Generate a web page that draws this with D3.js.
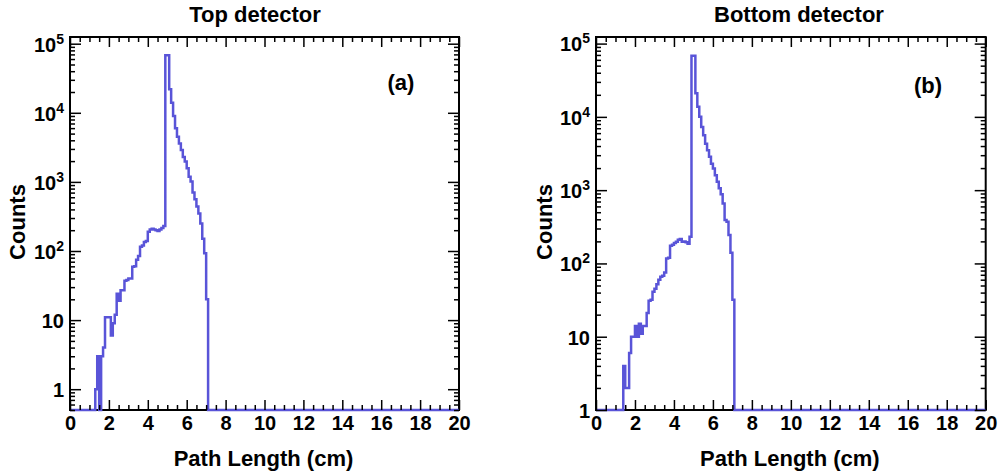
<!DOCTYPE html>
<html>
<head>
<meta charset="utf-8">
<script src="https://cdn.jsdelivr.net/npm/d3@7"></script>
<style>
body { margin: 0; background: #fff; }
text { font-family: "Liberation Sans", Arial, sans-serif; font-weight: bold; fill: #000; }
.tick line { stroke: #000; stroke-width: 1.5px; }
.hist { fill: none; stroke: #5954d8; stroke-width: 2.5px; }
.frame { fill: none; stroke: #000; stroke-width: 2px; }
</style>
</head>
<body>
<svg id="chart" width="998" height="474"></svg>
<script>
// histogram binning (cm)
var binStart = 1.3, binWidth = 0.1;

// counts per bin, starting at binStart
var topCounts = [1, 3, 0, 3, 4, 11, 11, 11, 6, 9,
  12, 24, 19, 27, 27, 37, 38, 40, 40, 59,
  60, 75, 85, 115, 120, 135, 140, 190, 205, 210,
  205, 200, 195, 205, 215, 230, 68000, 68000, 22000, 14000,
  9000, 6000, 4500, 3600, 2900, 2300, 1970, 1580, 1190, 1010,
  700, 560, 440, 350, 250, 150, 93, 20];

var bottomCounts = [0, 4, 2, 2, 6, 10, 10, 14, 10, 15,
  11, 14, 14, 21, 31, 32, 41, 45, 52, 60,
  66, 68, 75, 117, 120, 175, 180, 190, 198, 210,
  215, 198, 200, 195, 185, 232, 68000, 68000, 21000, 13700,
  10000, 7300, 5600, 4300, 3500, 2860, 2300, 1980, 1600, 1300,
  1060, 880, 660, 390, 370, 244, 140, 32];

var xMajor = [0, 2, 4, 6, 8, 10, 12, 14, 16, 18, 20];
var yMajor = [1, 10, 100, 1000, 10000, 100000];

var svg = d3.select("#chart");

var panels = [
  {title: "Top detector", tag: "(a)", counts: topCounts, left: 70, right: 459, yMin: 0.5, yMax: 1.25e5,
   titleX: 255, tagX: 401, tagY: 90, ylabX: 25},
  {title: "Bottom detector", tag: "(b)", counts: bottomCounts, left: 596, right: 985.7, yMin: 1, yMax: 1.23e5,
   titleX: 799, tagX: 928, tagY: 93, ylabX: 552}
];
var plotTop = 37, plotBottom = 410;

panels.forEach(drawPanel);

function drawPanel(p) {
  var x = d3.scaleLinear().domain([0, 20]).range([p.left, p.right]);
  var y = d3.scaleLog().domain([p.yMin, p.yMax]).range([plotBottom, plotTop]);
  var g = svg.append("g");

  // frame
  g.append("rect").attr("class", "frame")
    .attr("x", p.left).attr("y", plotTop)
    .attr("width", p.right - p.left).attr("height", plotBottom - plotTop);

  // histogram as a step line
  var pts = [{x: 0, v: 0}];
  p.counts.forEach(function(c, i) { pts.push({x: binStart + i * binWidth, v: c}); });
  pts.push({x: binStart + p.counts.length * binWidth, v: 0});
  pts.push({x: 20, v: 0});
  var line = d3.line()
    .x(function(d) { return x(d.x); })
    .y(function(d) { return d.v > p.yMin ? y(d.v) : plotBottom; })
    .curve(d3.curveStepAfter);
  g.append("path").attr("class", "hist").attr("d", line(pts));

  // minor tick positions
  var xMinor = d3.range(0, 20.001, 0.5).filter(function(v) { return v % 2 !== 0; });
  var yMinor = [];
  [0.1, 1, 10, 100, 1000, 10000, 100000].forEach(function(dec) {
    for (var k = 2; k <= 9; k++) {
      var v = dec * k;
      if (v >= p.yMin && v <= p.yMax) yMinor.push(v);
    }
  });

  // bottom axis
  var bx = g.append("g").attr("transform", "translate(0," + plotBottom + ")")
    .call(d3.axisBottom(x).tickValues(xMajor).tickSizeInner(-10).tickSizeOuter(0).tickPadding(6)
      .tickFormat(function(d) { return d; }));
  bx.selectAll("text").style("font-size", "20px");
  g.append("g").attr("transform", "translate(0," + plotBottom + ")")
    .call(d3.axisBottom(x).tickValues(xMinor).tickSizeInner(-5).tickSizeOuter(0).tickFormat(""));

  // top axis
  g.append("g").attr("transform", "translate(0," + plotTop + ")")
    .call(d3.axisTop(x).tickValues(xMajor).tickSizeInner(-10).tickSizeOuter(0).tickFormat(""));
  g.append("g").attr("transform", "translate(0," + plotTop + ")")
    .call(d3.axisTop(x).tickValues(xMinor).tickSizeInner(-5).tickSizeOuter(0).tickFormat(""));

  // left axis
  var ly = g.append("g").attr("transform", "translate(" + p.left + ",0)")
    .call(d3.axisLeft(y).tickValues(yMajor).tickSizeInner(-11).tickSizeOuter(0).tickPadding(6)
      .tickFormat(function(d) { return d; }));
  ly.selectAll("text").style("font-size", "20px").attr("dy", "0.37em").each(function(d) {
    var t = d3.select(this);
    if (d >= 100) {
      t.text("10");
      t.append("tspan").text(Math.round(Math.log10(d)))
        .style("font-size", "14px").attr("dy", "-8");
    }
  });
  g.append("g").attr("transform", "translate(" + p.left + ",0)")
    .call(d3.axisLeft(y).tickValues(yMinor).tickSizeInner(-5).tickSizeOuter(0).tickFormat(""));

  // right axis
  g.append("g").attr("transform", "translate(" + p.right + ",0)")
    .call(d3.axisRight(y).tickValues(yMajor).tickSizeInner(-11).tickSizeOuter(0).tickFormat(""));
  g.append("g").attr("transform", "translate(" + p.right + ",0)")
    .call(d3.axisRight(y).tickValues(yMinor).tickSizeInner(-5).tickSizeOuter(0).tickFormat(""));

  g.selectAll(".domain").remove();

  // texts
  var cx = (p.left + p.right) / 2;
  g.append("text").attr("x", p.titleX).attr("y", 22).attr("text-anchor", "middle")
    .style("font-size", "22px").text(p.title);
  g.append("text").attr("x", cx - 1).attr("y", 466).attr("text-anchor", "middle")
    .style("font-size", "22px").text("Path Length (cm)");
  g.append("text").attr("transform", "translate(" + p.ylabX + ",222) rotate(-90)")
    .attr("text-anchor", "middle").style("font-size", "22px").text("Counts");
  g.append("text").attr("x", p.tagX).attr("y", p.tagY).attr("text-anchor", "middle")
    .style("font-size", "22px").text(p.tag);
}
</script>
</body>
</html>
